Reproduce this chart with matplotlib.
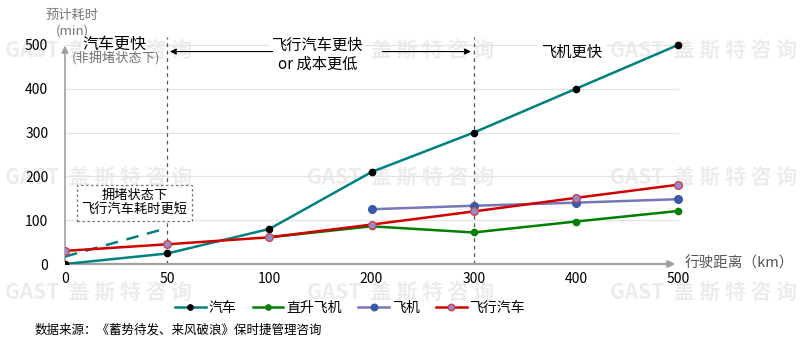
import matplotlib
matplotlib.use('Agg')
import matplotlib.pyplot as plt
import numpy as np

plt.rcParams['font.family'] = ['Noto Sans CJK SC', 'DejaVu Sans']

distances = ['0', '50', '100', '200', '300', '400', '500']
car = [0, 24, 80, 210, 300, 400, 500]
helicopter = [None, None, 61, 86, 72, 97, 121]
plane = [None, None, None, 125, 133, 140, 148]
flying_car = [30, 45, 61, 90, 120, 151, 181]
car_jam = [17, 82]  # 拥堵状态下汽车 (0 -> 50)
y_ticks = [0, 100, 200, 300, 400, 500]


def series(vals):
    x = [i for i, v in enumerate(vals) if v is not None]
    y = [v for v in vals if v is not None]
    return x, y


fig = plt.figure(figsize=(8, 3.5), dpi=100)
ax = fig.add_axes([0.08125, 0.2457, 0.7727, 0.6508])
ax.set_xlim(0, 6.05)
ax.set_ylim(0, 520)

# 水印
for wx in [5, 307, 610]:
    for wy in [50, 177, 292]:
        fig.text(wx / 800, 1 - wy / 350, 'GAST  盖 斯 特 咨 询', fontsize=15, fontweight='bold',
                 color='#ececec', va='center', ha='left', zorder=-5)

for s in ax.spines.values():
    s.set_visible(False)
ax.set_facecolor('none')

for v in y_ticks[1:]:
    ax.plot([0, 6], [v, v], color='#e3e3e3', lw=0.9, zorder=1)

# 坐标轴箭头
ax.annotate('', xy=(0, 505), xytext=(0, 0),
            arrowprops=dict(arrowstyle='-|>', color='#a0a0a0', lw=1.2, mutation_scale=10))
ax.annotate('', xy=(6.0, 0), xytext=(0, 0),
            arrowprops=dict(arrowstyle='-|>', color='#a0a0a0', lw=1.6, mutation_scale=10))

ax.set_xticks(range(len(distances)))
ax.set_xticklabels(distances)
ax.set_yticks(y_ticks)
ax.tick_params(length=0, labelsize=10, pad=6)
ax.tick_params(axis='y', pad=12)

# 分段虚线
for xi in [1, 4]:
    ax.plot([xi, xi], [0, 518], color='#555555', lw=0.9, ls=(0, (3, 3)), zorder=2)

x, y = series(car)
ax.plot(x, y, color='#008080', lw=1.8, marker='o', ms=4.5, mfc='black', mec='black', zorder=5, label='汽车')
x, y = series(helicopter)
ax.plot(x, y, color='#008000', lw=1.8, marker='o', ms=4.5, mfc='#008000', mec='#008000', zorder=4, label='直升飞机')
x, y = series(plane)
ax.plot(x, y, color='#7676b8', lw=1.8, marker='o', ms=5.5, mfc='#3a58a8', mec='#3a58a8', zorder=4, label='飞机')
x, y = series(flying_car)
ax.plot(x, y, color='#d00000', lw=1.8, marker='o', ms=5.5, mfc='#8e8ec8', mec='#d04050', zorder=6, label='飞行汽车')
ax.plot([0, 1], car_jam, color='#008080', lw=1.8, ls=(0, (5, 3.5)), zorder=5)

# 区间说明
ax.text(0.48, 502, '汽车更快', ha='center', va='center', fontsize=11.5,
        bbox=dict(fc='white', ec='none', pad=1), zorder=3)
ax.text(0.5, 470, '(非拥堵状态下)', ha='center', va='center', fontsize=9.5, color='#777777', zorder=3)
ax.text(2.47, 478, '飞行汽车更快\nor 成本更低', ha='center', va='center', fontsize=11,
        linespacing=1.15, bbox=dict(fc='white', ec='none', pad=2), zorder=3)
ax.text(4.97, 483, '飞机更快', ha='center', va='center', fontsize=11,
        bbox=dict(fc='white', ec='none', pad=3), zorder=3)
ax.annotate('', xy=(1.0, 485), xytext=(2.06, 485),
            arrowprops=dict(arrowstyle='-|>', color='black', lw=0.8, mutation_scale=9), zorder=4)
ax.annotate('', xy=(4.0, 485), xytext=(3.08, 485),
            arrowprops=dict(arrowstyle='-|>', color='black', lw=0.8, mutation_scale=9), zorder=4)

ax.text(0.68, 139, '拥堵状态下\n飞行汽车耗时更短', ha='center', va='center', fontsize=9.5,
        linespacing=1.2, bbox=dict(fc='white', ec='#777777', ls=(0, (2, 2)), lw=0.9, pad=3), zorder=3)

fig.text(72 / 800, 1 - 15 / 350, '预计耗时', ha='center', va='center', fontsize=9.5, color='#777777')
fig.text(72 / 800, 1 - 31 / 350, '(min)', ha='center', va='center', fontsize=9.5, color='#777777')
fig.text(685 / 800, 1 - 263 / 350, '行驶距离（km）', ha='left', va='center', fontsize=10.5, color='#555555')

ax.legend(loc='center', bbox_to_anchor=(350 / 800, 1 - 308 / 350), bbox_transform=fig.transFigure,
          ncol=4, frameon=False, fontsize=10, handlelength=2.2, handletextpad=0.2, columnspacing=1.2,
          markerscale=0.85)

fig.text(35 / 800, 1 - 330 / 350, '数据来源：《蓄势待发、来风破浪》保时捷管理咨询',
         ha='left', va='center', fontsize=9)

fig.savefig('out.png', dpi=100, facecolor='white')
